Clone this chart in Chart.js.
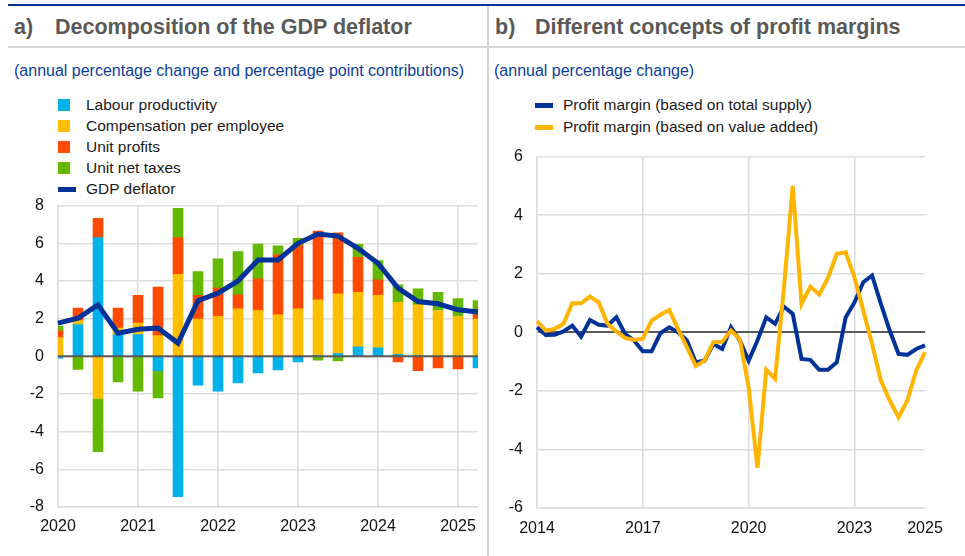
<!DOCTYPE html>
<html>
<head>
<meta charset="utf-8">
<script src="https://cdn.jsdelivr.net/npm/chart.js@4.4.1/dist/chart.umd.min.js"></script>
<style>
  body { margin:0; background:#fff; font-family:"Liberation Sans", Arial, sans-serif; }
  #wrap { position:relative; width:965px; height:556px; overflow:hidden; }
  .abs { position:absolute; white-space:nowrap; }
  .title { font-weight:bold; font-size:21.5px; color:#595959; top:15px; }
  .sub { font-size:16px; color:#0e3d99; top:62px; }
  .leg { font-size:15.5px; color:#1a1a1a; line-height:18px; }
  .box { position:absolute; width:12px; height:12px; }
  .ln { position:absolute; height:5px; width:18px; }
</style>
</head>
<body>
<div id="wrap">
  <div class="abs" style="left:8px;top:4px;width:957px;height:2px;background:#003299"></div>
  <div class="abs" style="left:8px;top:46px;width:957px;height:2px;background:#d4d4d4"></div>
  <div class="abs" style="left:487px;top:6px;width:2px;height:550px;background:#d4d4d4"></div>

  <div class="abs title" style="left:14px">a)</div>
  <div class="abs title" style="left:55px">Decomposition of the GDP deflator</div>
  <div class="abs title" style="left:495px">b)</div>
  <div class="abs title" style="left:535px">Different concepts of profit margins</div>

  <div class="abs sub" style="left:14px">(annual percentage change and percentage point contributions)</div>
  <div class="abs sub" style="left:494px">(annual percentage change)</div>

  <div id="legendA"></div>
  <div id="legendB"></div>

  <canvas id="chartA" class="abs" style="left:0;top:182px" width="488" height="355"></canvas>
  <canvas id="chartB" class="abs" style="left:490px;top:133px" width="475" height="405"></canvas>
</div>

<script>
// a) decomposition of the GDP deflator, 2020Q1 - 2025Q2
let quarters = ["2020Q1","2020Q2","2020Q3","2020Q4","2021Q1","2021Q2","2021Q3","2021Q4",
    "2022Q1","2022Q2","2022Q3","2022Q4","2023Q1","2023Q2","2023Q3","2023Q4",
    "2024Q1","2024Q2","2024Q3","2024Q4","2025Q1","2025Q2"];
let labourProductivity = [-0.1, 1.68, 6.3, 1.15, 1.15, -0.76, -7.45, -1.53, -1.85, -1.41, -0.88,
    -0.72, -0.3, 0.05, 0.15, 0.5, 0.45, 0.1, 0.02, 0.0, 0.0, -0.62];
let compensation = [1.0, 0.21, -2.24, 0.35, 0.61, 1.1, 4.35, 1.98, 2.12, 2.52, 2.43,
    2.2, 2.52, 2.95, 3.17, 2.9, 2.78, 2.76, 2.71, 2.43, 2.12, 1.98];
let unitProfits = [0.35, 0.67, 1.02, 1.06, 1.47, 2.57, 1.95, 1.25, 1.5, 0.74, 1.68,
    3.18, 3.38, 3.65, 3.24, 1.85, 0.83, -0.3, -0.76, -0.62, -0.67, 0.22];
let unitNetTaxes = [0.25, -0.7, -2.82, -1.36, -1.85, -1.45, 1.55, 1.27, 1.55, 2.3, 1.85,
    0.48, 0.36, -0.2, -0.25, 0.69, 1.02, 0.93, 0.85, 0.96, 0.95, 0.76];
let gdpDeflator = [1.76, 2.03, 2.73, 1.23, 1.44, 1.5, 0.7, 2.95, 3.35, 4.0, 5.11,
    5.11, 6.0, 6.49, 6.38, 5.73, 4.94, 3.62, 2.91, 2.79, 2.47, 2.35];

// b) profit margins, 2014Q1 - 2025Q1
let marginQuarters = [];
for (let y = 2014; y <= 2025; y++) {
    for (let q = 1; q <= 4; q++) {
        if (y === 2025 && q > 1) break;
        marginQuarters.push(y + "Q" + q);
    }
}
let marginTotalSupply = [0.17, -0.09, -0.08, 0.03, 0.23, -0.15, 0.42, 0.26, 0.23, 0.51,
    -0.06, -0.28, -0.65, -0.65, -0.03, 0.17, 0.0, -0.28, -1.02, -0.97,
    -0.4, -0.57, 0.17, -0.28, -0.97, -0.28, 0.51, 0.29, 0.88, 0.63,
    -0.91, -0.94, -1.28, -1.28, -1.02, 0.51, 1.02, 1.71, 1.94, 0.97,
    0.06, -0.74, -0.77, -0.57, -0.45];
let marginValueAdded = [0.38, 0.06, 0.11, 0.29, 0.99, 0.99, 1.22, 1.02, 0.29, 0.03,
    -0.19, -0.26, -0.22, 0.4, 0.6, 0.76, 0.11, -0.51, -1.15, -0.97,
    -0.34, -0.32, 0.06, -0.23, -1.88, -4.63, -1.28, -1.59, 1.5, 5.0,
    0.97, 1.56, 1.29, 1.86, 2.68, 2.73, 1.88, 0.74, -0.4, -1.65,
    -2.33, -2.9, -2.33, -1.31, -0.68];
let marginYearTicks = ["2014Q1", "2017Q1", "2020Q1", "2023Q1", "2025Q1"];

let colours = {
    labour: "#00b1ea",
    comp: "#ffbf00",
    profits: "#ff4b00",
    taxes: "#65b800",
    deflator: "#003299",
    supply: "#003299",
    valueAdded: "#ffb400"
};

let tickFont = { family: "Liberation Sans", size: 16 };
let gridGrey = "#dcdcdc";

Chart.defaults.font.family = "Liberation Sans";

// legends as plain html
function buildLegend(id, items, left, top, step) {
    let html = "";
    items.forEach((it, i) => {
        let y = top + i * step;
        if (it.kind === "box") {
            html += '<div class="box" style="left:' + left + 'px;top:' + (y - 6) + 'px;background:' + it.colour + '"></div>';
        } else {
            html += '<div class="ln" style="left:' + left + 'px;top:' + (y - 2.5) + 'px;background:' + it.colour + '"></div>';
        }
        html += '<div class="abs leg" style="left:' + (left + it.textGap) + 'px;top:' + (y - 9) + 'px">' + it.label + '</div>';
    });
    document.getElementById(id).innerHTML = html;
}

buildLegend("legendA", [
    { kind: "box", colour: colours.labour, label: "Labour productivity", textGap: 28 },
    { kind: "box", colour: colours.comp, label: "Compensation per employee", textGap: 28 },
    { kind: "box", colour: colours.profits, label: "Unit profits", textGap: 28 },
    { kind: "box", colour: colours.taxes, label: "Unit net taxes", textGap: 28 },
    { kind: "line", colour: colours.deflator, label: "GDP deflator", textGap: 28 }
], 58, 105, 21);

buildLegend("legendB", [
    { kind: "line", colour: colours.supply, label: "Profit margin (based on total supply)", textGap: 28 },
    { kind: "line", colour: colours.valueAdded, label: "Profit margin (based on value added)", textGap: 28 }
], 535, 105, 22);

// zero line drawn over the bars
let zeroLine = {
    id: "zeroLine",
    afterDatasetsDraw(chart) {
        let y = chart.scales.y.getPixelForValue(0);
        let a = chart.chartArea;
        let c = chart.ctx;
        c.save();
        c.strokeStyle = "#5a5a5a";
        c.lineWidth = 2;
        c.beginPath();
        c.moveTo(a.left, y);
        c.lineTo(a.right, y);
        c.stroke();
        c.restore();
    }
};

function barSet(label, data, colour) {
    return {
        label: label,
        data: data,
        backgroundColor: colour,
        barThickness: 10,
        stack: "contrib",
        order: 1
    };
}

new Chart(document.getElementById("chartA").getContext("2d"), {
    type: "bar",
    data: {
        labels: quarters,
        datasets: [
            {
                type: "line",
                label: "GDP deflator",
                data: gdpDeflator,
                borderColor: colours.deflator,
                borderWidth: 5,
                pointRadius: 0,
                tension: 0,
                stack: "deflator",
                order: 0
            },
            barSet("Labour productivity", labourProductivity, colours.labour),
            barSet("Compensation per employee", compensation, colours.comp),
            barSet("Unit profits", unitProfits, colours.profits),
            barSet("Unit net taxes", unitNetTaxes, colours.taxes)
        ]
    },
    options: {
        responsive: false,
        animation: false,
        layout: { padding: { top: 6, right: 7, left: 0, bottom: 0 } },
        plugins: { legend: { display: false }, tooltip: { enabled: false } },
        scales: {
            x: {
                stacked: true,
                offset: false,
                grid: {
                    offset: false,
                    drawTicks: false,
                    lineWidth: 1.5,
                    color: ctx => (ctx.index % 4 === 0 ? gridGrey : "rgba(0,0,0,0)")
                },
                border: { color: gridGrey, width: 1.5 },
                ticks: {
                    autoSkip: false,
                    maxRotation: 0,
                    padding: 10,
                    color: "#111",
                    font: tickFont,
                    callback: (v, i) => (i % 4 === 0 ? quarters[i].slice(0, 4) : "")
                },
                afterFit: s => { s.height = 30; }
            },
            y: {
                stacked: true,
                min: -8,
                max: 8,
                ticks: { stepSize: 2, padding: 14, color: "#111", font: tickFont },
                grid: { drawTicks: false, lineWidth: 1.5, color: gridGrey },
                border: { color: gridGrey, width: 1.5 },
                afterFit: s => { s.width = 58; }
            }
        }
    },
    plugins: [zeroLine]
});

new Chart(document.getElementById("chartB").getContext("2d"), {
    type: "line",
    data: {
        labels: marginQuarters,
        datasets: [
            {
                label: "Profit margin (based on total supply)",
                data: marginTotalSupply,
                borderColor: colours.supply,
                borderWidth: 4,
                pointRadius: 0,
                tension: 0,
                order: 1
            },
            {
                label: "Profit margin (based on value added)",
                data: marginValueAdded,
                borderColor: colours.valueAdded,
                borderWidth: 4,
                pointRadius: 0,
                tension: 0,
                order: 0
            }
        ]
    },
    options: {
        responsive: false,
        animation: false,
        layout: { padding: { top: 8, right: 40, left: 0, bottom: 0 } },
        plugins: { legend: { display: false }, tooltip: { enabled: false } },
        scales: {
            x: {
                offset: false,
                grid: {
                    offset: false,
                    drawTicks: false,
                    lineWidth: 1.5,
                    color: ctx => {
                        let lbl = marginQuarters[ctx.index];
                        return marginYearTicks.includes(lbl) && lbl !== "2025Q1" ? gridGrey : "rgba(0,0,0,0)";
                    }
                },
                border: { color: gridGrey, width: 1.5 },
                ticks: {
                    autoSkip: false,
                    maxRotation: 0,
                    padding: 11,
                    color: "#111",
                    font: tickFont,
                    callback: (v, i) => (marginYearTicks.includes(marginQuarters[i]) ? marginQuarters[i].slice(0, 4) : "")
                },
                afterFit: s => { s.height = 30; }
            },
            y: {
                min: -6,
                max: 6,
                ticks: { stepSize: 2, padding: 14, color: "#111", font: tickFont },
                grid: {
                    drawTicks: false,
                    lineWidth: ctx => (ctx.tick.value === 0 ? 2 : 1.5),
                    color: ctx => (ctx.tick.value === 0 ? "#5a5a5a" : gridGrey)
                },
                border: { color: gridGrey, width: 1.5 },
                afterFit: s => { s.width = 47; }
            }
        }
    }
});
</script>
</body>
</html>
